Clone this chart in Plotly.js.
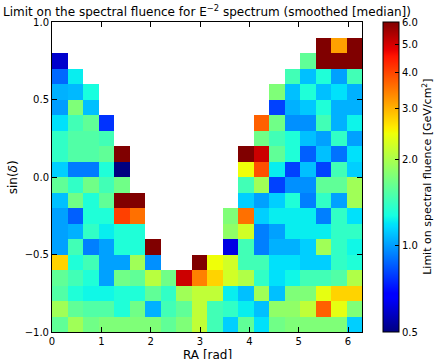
<!DOCTYPE html>
<html>
<head>
<meta charset="utf-8">
<script src="https://cdn.plot.ly/plotly-3.0.1.min.js"></script>
<style>html,body{margin:0;padding:0;background:#fff;}#chart{width:434px;height:359px;}</style>
</head>
<body>
<div id="chart"></div>
<script>
const N = null;
// RA bins: 20 bins over [0, 2*pi]; sin(dec) bins: 20 bins over [-1, 1]
const nRA = 20, nDec = 20;
// Fluence limit per cell, one row per sin(dec) bin (top row first)
const s_p095 = [N,N,N,N,N,N,N,N,N,N,N,N,N,N,N,N,N,N,N,N];
const s_p085 = [N,N,N,N,N,N,N,N,N,N,N,N,N,N,N,N,N,6.0,3.15,6.0];
const s_p075 = [0.59,N,N,N,N,N,N,N,N,N,N,N,N,N,N,N,1.59,6.0,6.0,6.0];
const s_p065 = [0.88,1.22,N,N,N,N,N,N,N,N,N,N,N,N,N,1.45,1.09,1.31,1.01,1.45];
const s_p055 = [1.05,1.07,1.28,N,N,N,N,N,N,N,N,N,N,N,1.75,1.09,1.31,1.09,1.18,1.05];
const s_p045 = [1.0,1.75,1.09,N,N,N,N,N,N,N,N,N,N,N,0.80,1.05,1.11,1.31,1.05,1.05];
const s_p035 = [1.18,1.45,1.59,0.77,N,N,N,N,N,N,N,N,N,3.73,1.67,0.97,0.97,1.45,1.05,1.24];
const s_p025 = [1.38,1.52,1.52,1.45,N,N,N,N,N,N,N,N,N,1.67,1.45,1.31,1.09,1.01,1.38,1.01];
const s_p015 = [1.38,1.52,1.52,1.59,6.0,N,N,N,N,N,N,N,6.0,5.1,1.59,1.31,0.86,1.09,0.90,1.18];
const s_p005 = [1.13,0.92,0.92,1.31,0.5,N,N,N,N,N,N,N,2.45,3.9,1.22,0.80,1.09,0.80,1.45,1.13];
const s_m005 = [1.59,1.38,1.67,1.45,1.67,N,N,N,N,N,N,N,1.45,1.93,0.80,0.97,0.97,1.59,1.59,1.93];
const s_m015 = [1.09,1.67,1.31,1.59,6.0,6.0,N,N,N,N,N,N,1.13,1.01,1.13,1.31,0.93,1.38,1.01,1.93];
const s_m025 = [1.01,0.86,1.31,1.31,4.06,3.57,N,N,N,N,N,1.75,3.57,1.13,1.22,1.22,1.22,0.93,1.38,1.18];
const s_m035 = [1.01,1.05,1.38,1.22,1.31,1.31,N,N,N,N,N,1.84,2.24,0.93,1.01,1.22,1.22,1.22,1.38,1.38];
const s_m045 = [1.01,1.45,0.93,1.01,1.31,1.31,6.0,N,N,N,N,0.62,1.45,0.93,1.05,1.05,1.13,1.93,1.38,1.25];
const s_m055 = [2.75,1.31,1.45,1.01,1.01,1.93,0.97,N,N,6.0,2.45,2.24,1.45,1.45,1.18,1.18,1.13,1.13,1.38,1.31];
const s_m065 = [1.59,1.45,1.31,1.01,1.67,1.59,2.08,1.67,5.1,3.42,2.75,2.24,2.03,1.38,1.18,1.25,1.45,1.45,1.52,2.03];
const s_m075 = [1.52,1.31,1.25,1.25,1.31,1.31,1.59,1.38,1.93,2.13,2.13,1.22,1.09,1.93,1.09,1.75,1.75,2.39,2.75,2.75];
const s_m085 = [1.93,1.59,1.52,1.52,1.31,1.67,1.05,1.45,1.59,2.13,1.45,1.38,1.22,1.09,1.84,1.84,2.13,3.73,2.39,1.75];
const s_m095 = [1.59,1.93,1.67,1.75,1.75,1.75,1.75,1.59,1.75,2.13,1.45,1.13,1.59,1.18,1.67,1.75,1.75,1.75,1.75,1.13];

const rowsTopFirst = [s_p095,s_p085,s_p075,s_p065,s_p055,s_p045,s_p035,s_p025,s_p015,s_p005,
                      s_m005,s_m015,s_m025,s_m035,s_m045,s_m055,s_m065,s_m075,s_m085,s_m095];

const cbTickValues = [0.5, 1.0, 2.0, 3.0, 4.0, 5.0, 6.0];
const cbTickLabels = ['0.5','1.0','2.0','3.0','4.0','5.0','6.0'];
const xTickValues = [0,1,2,3,4,5,6];
const xTickLabels = ['0','1','2','3','4','5','6'];
const yTickValues = [-1,-0.5,0,0.5,1];
const yTickLabels = ['\u22121.0','\u22120.5','0.0','0.5','1.0'];
const zMin = 0.5, zMax = 6.0;

// bin centres
const raMax = 2*Math.PI;
const raCenters = Array.from({length:nRA},(_,i)=>(i+0.5)*raMax/nRA);
const decCenters = Array.from({length:nDec},(_,i)=>-1+(i+0.5)*2/nDec);
const zLog = rowsTopFirst.slice().reverse().map(r=>r.map(v=>v===null?null:Math.log10(v)));

// matplotlib "jet" colormap
function seg(pts,t){for(let i=1;i<pts.length;i++){if(t<=pts[i][0]){const a=pts[i-1],b=pts[i];return a[1]+(b[1]-a[1])*(t-a[0])/(b[0]-a[0]);}}return pts[pts.length-1][1];}
const R=[[0,0],[0.35,0],[0.66,1],[0.89,1],[1,0.5]];
const G=[[0,0],[0.125,0],[0.375,1],[0.64,1],[0.91,0],[1,0]];
const B=[[0,0.5],[0.11,1],[0.34,1],[0.65,0],[1,0]];
const stops=[0,0.11,0.125,0.34,0.35,0.375,0.64,0.65,0.66,0.89,0.91,1];
const jet=stops.map(t=>[t,`rgb(${Math.round(255*seg(R,t))},${Math.round(255*seg(G,t))},${Math.round(255*seg(B,t))})`]);

const font='"DejaVu Sans", sans-serif';
const trace={
  type:'heatmap', x:raCenters, y:decCenters, z:zLog,
  zmin:Math.log10(zMin), zmax:Math.log10(zMax), colorscale:jet, zsmooth:false,
  hoverongaps:false,
  colorbar:{
    x:1.0633, xanchor:'left', xref:'paper', y:0.5, yanchor:'middle', yref:'paper',
    len:1, lenmode:'fraction', thickness:16, thicknessmode:'pixels',
    xpad:0, ypad:0, outlinewidth:1, outlinecolor:'#000',
    tickmode:'array', tickvals:cbTickValues.map(v=>Math.log10(v)), ticktext:cbTickLabels,
    ticks:'inside', ticklen:4, tickcolor:'#000', tickwidth:1,
    tickfont:{family:font,size:10,color:'#000'}
  }
};
const layout={
  width:434, height:359,
  margin:{l:52,r:71,t:22,b:27,pad:0},
  paper_bgcolor:'#fff', plot_bgcolor:'#fff',
  font:{family:font,size:10,color:'#000'},
  title:{text:'Limit on the spectral fluence for E<sup>\u22122</sup> spectrum (smoothed [median])',
         font:{family:font,size:12,color:'#000'}, x:0.5, xref:'paper', y:0.966, yref:'container', yanchor:'middle'},
  xaxis:{range:[0,raMax], tickmode:'array', tickvals:xTickValues, ticktext:xTickLabels,
         ticks:'inside', ticklen:5, tickcolor:'#000', showline:true, linecolor:'#000', linewidth:1,
         mirror:'ticks', showgrid:false, zeroline:false, tickfont:{family:font,size:10,color:'#000'}},
  yaxis:{range:[-1,1], tickmode:'array', tickvals:yTickValues, ticktext:yTickLabels,
         ticks:'inside', ticklen:5, tickcolor:'#000', showline:true, linecolor:'#000', linewidth:1,
         mirror:'ticks', showgrid:false, zeroline:false, tickfont:{family:font,size:10,color:'#000'}},
  annotations:[
    {text:'RA [rad]', xref:'paper', yref:'paper', x:0.5, y:-0.075, xanchor:'center', yanchor:'middle',
     showarrow:false, font:{family:font,size:12,color:'#000'}},
    {text:'sin(<i>δ</i>)', xref:'paper', yref:'paper', x:-0.125, y:0.5, xanchor:'center', yanchor:'middle',
     textangle:-90, showarrow:false, font:{family:font,size:12,color:'#000'}},
    {text:'Limit on spectral fluence [GeV/cm<sup>2</sup>]', xref:'paper', yref:'paper', x:1.209, y:0.5,
     xanchor:'center', yanchor:'middle', textangle:-90, showarrow:false, font:{family:font,size:11,color:'#000'}}
  ]
};
Plotly.newPlot('chart',[trace],layout,{displayModeBar:false,staticPlot:true});
</script>
</body>
</html>
